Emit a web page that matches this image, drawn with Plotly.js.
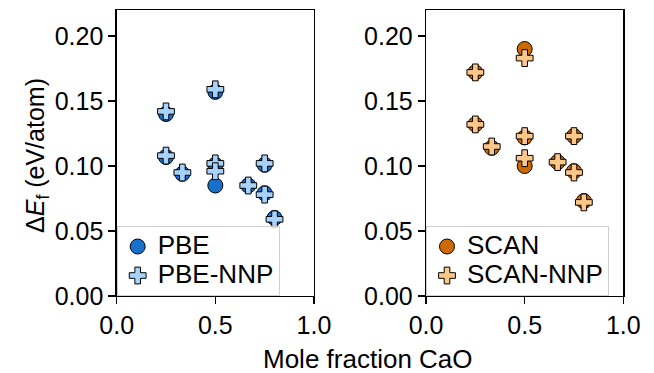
<!DOCTYPE html>
<html>
<head>
<meta charset="utf-8">
<script src="https://cdn.plot.ly/plotly-3.0.1.min.js"></script>
<style>
  html, body { margin: 0; padding: 0; background: #fff; }
  #chart { width: 654px; height: 373px; }
</style>
</head>
<body>
<div id="chart"></div>
<script>
// Mole fraction of CaO for each structure
const moleFraction = [0.25, 0.25, 0.333, 0.5, 0.5, 0.5, 0.667, 0.75, 0.75, 0.8];

// Formation energy above hull (eV/atom)
const pbeDFT = [0.140, 0.107, 0.094, 0.157, 0.101, 0.085, 0.085, 0.101, 0.079, 0.060];
const pbeNNP = [0.142, 0.108, 0.095, 0.159, 0.102, 0.096, 0.085, 0.102, 0.078, 0.059];
const scanDFT = [0.172, 0.132, 0.114, 0.190, 0.122, 0.100, 0.103, 0.123, 0.096, 0.073];
const scanNNP = [0.172, 0.132, 0.115, 0.183, 0.123, 0.106, 0.103, 0.123, 0.095, 0.072];

const seriesNames = ['PBE', 'PBE-NNP', 'SCAN', 'SCAN-NNP'];
const xTicks = [0, 0.5, 1];
const xTickText = ['0.0', '0.5', '1.0'];
const yTicks = [0, 0.05, 0.10, 0.15, 0.20];
const yTickText = ['0.00', '0.05', '0.10', '0.15', '0.20'];

const FONT = 'Liberation Sans, Arial, Helvetica, sans-serif';
const TICK_FS = 25;
const TITLE_FS = 26;
const LEGEND_FS = 26;

// legend labels are drawn at full size while the entry spacing stays compact
function legendLabel(name) {
  return '<span style="font-size:' + LEGEND_FS + 'px">' + name + '</span>';
}

function dftTrace(y, name, color, xa, ya, legend) {
  return {
    x: moleFraction, y: y, name: legendLabel(name), type: 'scatter', mode: 'markers',
    xaxis: xa, yaxis: ya, legend: legend,
    marker: { symbol: 'circle', size: 15, color: color, line: { color: '#000', width: 1 } }
  };
}
function nnpTrace(y, name, color, xa, ya, legend) {
  return {
    x: moleFraction, y: y, name: legendLabel(name), type: 'scatter', mode: 'markers',
    xaxis: xa, yaxis: ya, legend: legend,
    marker: { symbol: 'cross', size: 14, color: color, line: { color: '#000', width: 1 } }
  };
}

const traces = [
  dftTrace(pbeDFT, seriesNames[0], '#1670cc', 'x', 'y', 'legend'),
  nnpTrace(pbeNNP, seriesNames[1], '#a6d2fb', 'x', 'y', 'legend'),
  dftTrace(scanDFT, seriesNames[2], '#cc6a00', 'x2', 'y2', 'legend2'),
  nnpTrace(scanNNP, seriesNames[3], '#fcc88a', 'x2', 'y2', 'legend2')
];

function xAxis(domain, anchor) {
  return {
    domain: domain, anchor: anchor, range: [0, 1],
    tickvals: xTicks, ticktext: xTickText,
    ticks: 'outside', ticklen: 7, tickwidth: 1.3, tickcolor: '#000',
    showline: true, linecolor: '#000', linewidth: 1.3, mirror: true,
    showgrid: false, zeroline: false,
    tickfont: { family: FONT, size: TICK_FS, color: '#000' }
  };
}
function yAxis(domain, anchor) {
  return {
    domain: domain, anchor: anchor, range: [0, 0.22],
    tickvals: yTicks, ticktext: yTickText,
    ticks: 'outside', ticklen: 7, tickwidth: 1.3, tickcolor: '#000',
    showline: true, linecolor: '#000', linewidth: 1.3, mirror: true,
    showgrid: false, zeroline: false,
    tickfont: { family: FONT, size: TICK_FS, color: '#000' }
  };
}

const yDom = [0.2064, 0.9732];
const legendCommon = {
  xref: 'paper', yref: 'paper', xanchor: 'left', yanchor: 'bottom',
  bgcolor: 'rgba(255,255,255,0.8)', bordercolor: '#d0d0d0', borderwidth: 1,
  font: { family: FONT, size: 20, color: '#000' },
  tracegroupgap: 0
};

const layout = {
  width: 654, height: 373,
  margin: { l: 0, r: 0, t: 0, b: 0 },
  paper_bgcolor: '#fff', plot_bgcolor: '#fff',
  xaxis: xAxis([0.1784, 0.4801], 'y'),
  yaxis: yAxis(yDom, 'x'),
  xaxis2: xAxis([0.6514, 0.9531], 'y2'),
  yaxis2: yAxis(yDom, 'x2'),
  legend: Object.assign({}, legendCommon, { x: 0.1784, y: 0.2064 }),
  legend2: Object.assign({}, legendCommon, { x: 0.6514, y: 0.2064 }),
  annotations: [
    {
      text: 'Mole fraction CaO', xref: 'paper', yref: 'paper',
      x: 368 / 654, y: 1 - 359 / 373, xanchor: 'center', yanchor: 'middle',
      showarrow: false, font: { family: FONT, size: TITLE_FS, color: '#000' }
    },
    {
      text: 'Δ<i>E</i><sub>f</sub> (eV/atom)', xref: 'paper', yref: 'paper',
      x: 37 / 654, y: 1 - 156 / 373, xanchor: 'center', yanchor: 'middle',
      textangle: -90, showarrow: false, font: { family: FONT, size: 25, color: '#000' }
    }
  ],
  showlegend: true
};

Plotly.newPlot('chart', traces, layout, { staticPlot: true, displayModeBar: false });
</script>
</body>
</html>
